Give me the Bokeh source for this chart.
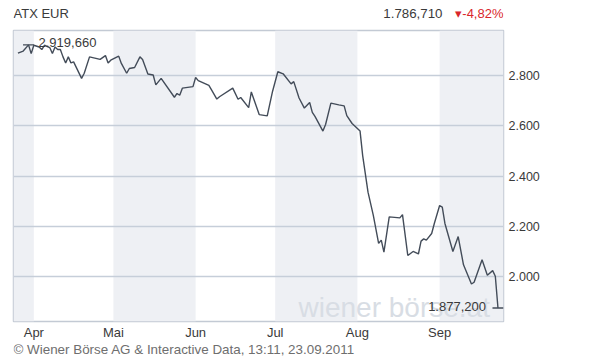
import pandas as pd
from bokeh.plotting import figure
from bokeh.layouts import column
from bokeh.models import Label, FixedTicker, Range1d, ColumnDataSource
from bokeh.embed import file_html
from bokeh.resources import INLINE

# ---- data ----
dates = [
    "2011-03-26", "2011-03-28", "2011-03-30", "2011-03-31", "2011-04-01", "2011-04-03",
    "2011-04-04", "2011-04-05", "2011-04-07", "2011-04-08", "2011-04-09", "2011-04-10",
    "2011-04-11", "2011-04-12", "2011-04-13", "2011-04-14", "2011-04-15", "2011-04-16",
    "2011-04-19", "2011-04-20", "2011-04-22", "2011-04-26", "2011-04-28", "2011-04-29",
    "2011-04-30", "2011-05-03", "2011-05-04", "2011-05-06", "2011-05-07", "2011-05-09",
    "2011-05-11", "2011-05-12", "2011-05-14", "2011-05-16", "2011-05-17", "2011-05-19",
    "2011-05-24", "2011-05-25", "2011-05-26", "2011-05-27", "2011-05-31", "2011-06-01",
    "2011-06-02", "2011-06-06", "2011-06-07", "2011-06-09", "2011-06-10", "2011-06-15",
    "2011-06-17", "2011-06-18", "2011-06-21", "2011-06-22", "2011-06-25", "2011-06-28",
    "2011-06-30", "2011-07-02", "2011-07-04", "2011-07-07", "2011-07-08", "2011-07-10",
    "2011-07-12", "2011-07-14", "2011-07-15", "2011-07-16", "2011-07-19", "2011-07-20",
    "2011-07-22", "2011-07-25", "2011-07-27", "2011-07-28", "2011-07-30", "2011-08-02",
    "2011-08-03", "2011-08-05", "2011-08-07", "2011-08-09", "2011-08-10", "2011-08-11",
    "2011-08-13", "2011-08-17", "2011-08-18", "2011-08-20", "2011-08-22", "2011-08-24",
    "2011-08-25", "2011-08-26", "2011-08-27", "2011-08-29", "2011-08-30", "2011-09-01",
    "2011-09-02", "2011-09-03", "2011-09-06", "2011-09-08", "2011-09-10", "2011-09-13",
    "2011-09-14", "2011-09-17", "2011-09-19", "2011-09-21", "2011-09-22", "2011-09-23",
]
values = [
    2887, 2895, 2919.66, 2885, 2918, 2911,
    2901, 2918, 2909, 2885, 2911, 2901,
    2901, 2872, 2848, 2872, 2848, 2852,
    2787, 2807, 2872, 2862, 2877, 2848,
    2859, 2875, 2846, 2807, 2826, 2830,
    2872, 2862, 2804, 2800, 2761, 2787,
    2712, 2727, 2720, 2748, 2754, 2790,
    2778, 2759, 2741, 2705, 2714, 2748,
    2704, 2711, 2671, 2733, 2643, 2638,
    2735, 2813, 2805, 2765, 2774, 2709,
    2669, 2691, 2652, 2636, 2578, 2604,
    2689, 2682, 2678, 2639, 2608, 2578,
    2480, 2336, 2244, 2133, 2146, 2098,
    2238, 2234, 2247, 2085, 2101, 2091,
    2142, 2151, 2146, 2172, 2212, 2283,
    2277, 2212, 2101, 2160, 2048, 1972,
    1979, 2068, 2007, 2025, 2003, 1877.2,
]
month_starts = ["2011-04-01", "2011-05-01", "2011-06-01", "2011-07-01", "2011-08-01", "2011-09-01"]
month_labels = ["Apr", "Mai", "Jun", "Jul", "Aug", "Sep"]
y_ticks = [2000, 2200, 2400, 2600, 2800]
y_tick_labels = ["2.000", "2.200", "2.400", "2.600", "2.800"]
max_text = "2.919,660"
min_text = "1.877,200"
title_text = "ATX EUR"
last_text = "1.786,710"
change_text = "\u25be-4,82%"
footer_text = "\u00a9 Wiener B\u00f6rse AG & Interactive Data, 13:11, 23.09.2011"
watermark_text = "wiener b\u00f6rse.at"

x_start = pd.Timestamp("2011-03-24 08:00")
x_end = pd.Timestamp("2011-09-25 02:00")
y_start, y_end = 1823.5, 2976.5

FONT = "Liberation Sans"
LINE = "#434c59"
TXT = "#3a3a3a"
W = 610
BL, BR = 13, 107   # left / right borders shared by all strips


def text_strip(h):
    # pixel-like coordinates: x in canvas pixels (frame spans BL..W-BR)
    f = figure(width=W, height=h, x_range=Range1d(BL, W - BR), y_range=Range1d(0, h),
               output_backend="svg", toolbar_location=None,
               min_border_left=BL, min_border_right=BR, min_border_top=0, min_border_bottom=0,
               x_axis_type=None, y_axis_type=None)
    f.outline_line_color = None
    f.grid.visible = False
    f.background_fill_color = "white"
    f.border_fill_color = "white"
    return f


# ---- header ----
head = text_strip(29)
head.add_layout(Label(x=13, y=16, text=title_text, text_font=FONT, text_font_size="13px",
                      text_color=TXT, text_baseline="middle"))
head.add_layout(Label(x=442, y=16, text=last_text, text_font=FONT, text_font_size="13.3px",
                      text_color=TXT, text_align="right", text_baseline="middle"))
head.add_layout(Label(x=503, y=16, text=change_text, text_font=FONT, text_font_size="13px",
                      text_color="#d9262b", text_align="right", text_baseline="middle"))

# ---- main chart ----
d = pd.to_datetime(dates)
src = ColumnDataSource(dict(x=d, y=values))

p = figure(width=W, height=313, x_axis_type="datetime", y_axis_location="right",
           output_backend="svg", toolbar_location=None,
           x_range=Range1d(x_start, x_end), y_range=Range1d(y_start, y_end),
           min_border_left=BL, min_border_right=BR, min_border_top=1, min_border_bottom=18)
p.background_fill_color = "white"
p.border_fill_color = "white"
p.outline_line_color = "#c3cad4"
p.outline_line_width = 1.5

ms = pd.to_datetime(month_starts)
edges = [x_start] + list(ms) + [x_end]
lefts, rights = [], []
for i in range(0, len(edges) - 1, 2):
    lefts.append(edges[i])
    rights.append(edges[i + 1])
p.quad(left=lefts, right=rights, bottom=y_start, top=y_end,
       fill_color="#eef0f4", line_color=None, level="image")

p.xgrid.grid_line_color = None
p.ygrid.grid_line_color = "#c6ced9"
p.ygrid.grid_line_width = 1.5
p.ygrid.ticker = FixedTicker(ticks=y_ticks)

tick_ms = [int(t.value // 10**6) for t in ms]
p.xaxis.ticker = FixedTicker(ticks=tick_ms)
p.xaxis.major_label_overrides = {t: lab for t, lab in zip(tick_ms, month_labels)}
p.yaxis.ticker = FixedTicker(ticks=y_ticks)
p.yaxis.major_label_overrides = {t: lab for t, lab in zip(y_ticks, y_tick_labels)}
for ax in (p.xaxis[0], p.yaxis[0]):
    ax.axis_line_color = None
    ax.major_tick_line_color = None
    ax.minor_tick_line_color = None
    ax.major_tick_out = 0
    ax.major_tick_in = 0
    ax.minor_tick_out = 0
    ax.minor_tick_in = 0
    ax.major_label_text_font = FONT
    ax.major_label_text_color = TXT
p.xaxis.major_label_text_font_size = "13px"
p.xaxis.major_label_standoff = 3
p.yaxis.major_label_text_font_size = "12.5px"
p.yaxis.major_label_standoff = 5

p.add_layout(Label(x=285, y=14, x_units="screen", y_units="screen", text=watermark_text,
                   text_font=FONT, text_font_size="28px", text_color="#d8dde4",
                   text_baseline="alphabetic", level="underlay"))

p.line("x", "y", source=src, line_color=LINE, line_width=1.4)

imax = values.index(max(values))
imin = values.index(min(values))
p.scatter(x=[d[imax], d[imin]], y=[values[imax], values[imin]], marker="dash",
          size=11, line_color=LINE, line_width=1.4)
p.add_layout(Label(x=d[imax], y=values[imax], text=max_text, x_offset=10, y_offset=2,
                   text_font=FONT, text_font_size="13px", text_color=TXT,
                   text_baseline="middle"))
p.add_layout(Label(x=d[imin], y=values[imin], text=min_text, x_offset=-12, y_offset=1,
                   text_font=FONT, text_font_size="13px", text_color=TXT,
                   text_align="right", text_baseline="middle"))

# ---- footer ----
foot = text_strip(17)
foot.add_layout(Label(x=13, y=10, text=footer_text, text_font=FONT, text_font_size="13.4px",
                      text_color="#6e6e6e", text_baseline="middle"))

layout = column(head, p, foot, spacing=0)
open("out.html", "w").write(file_html(layout, INLINE))
